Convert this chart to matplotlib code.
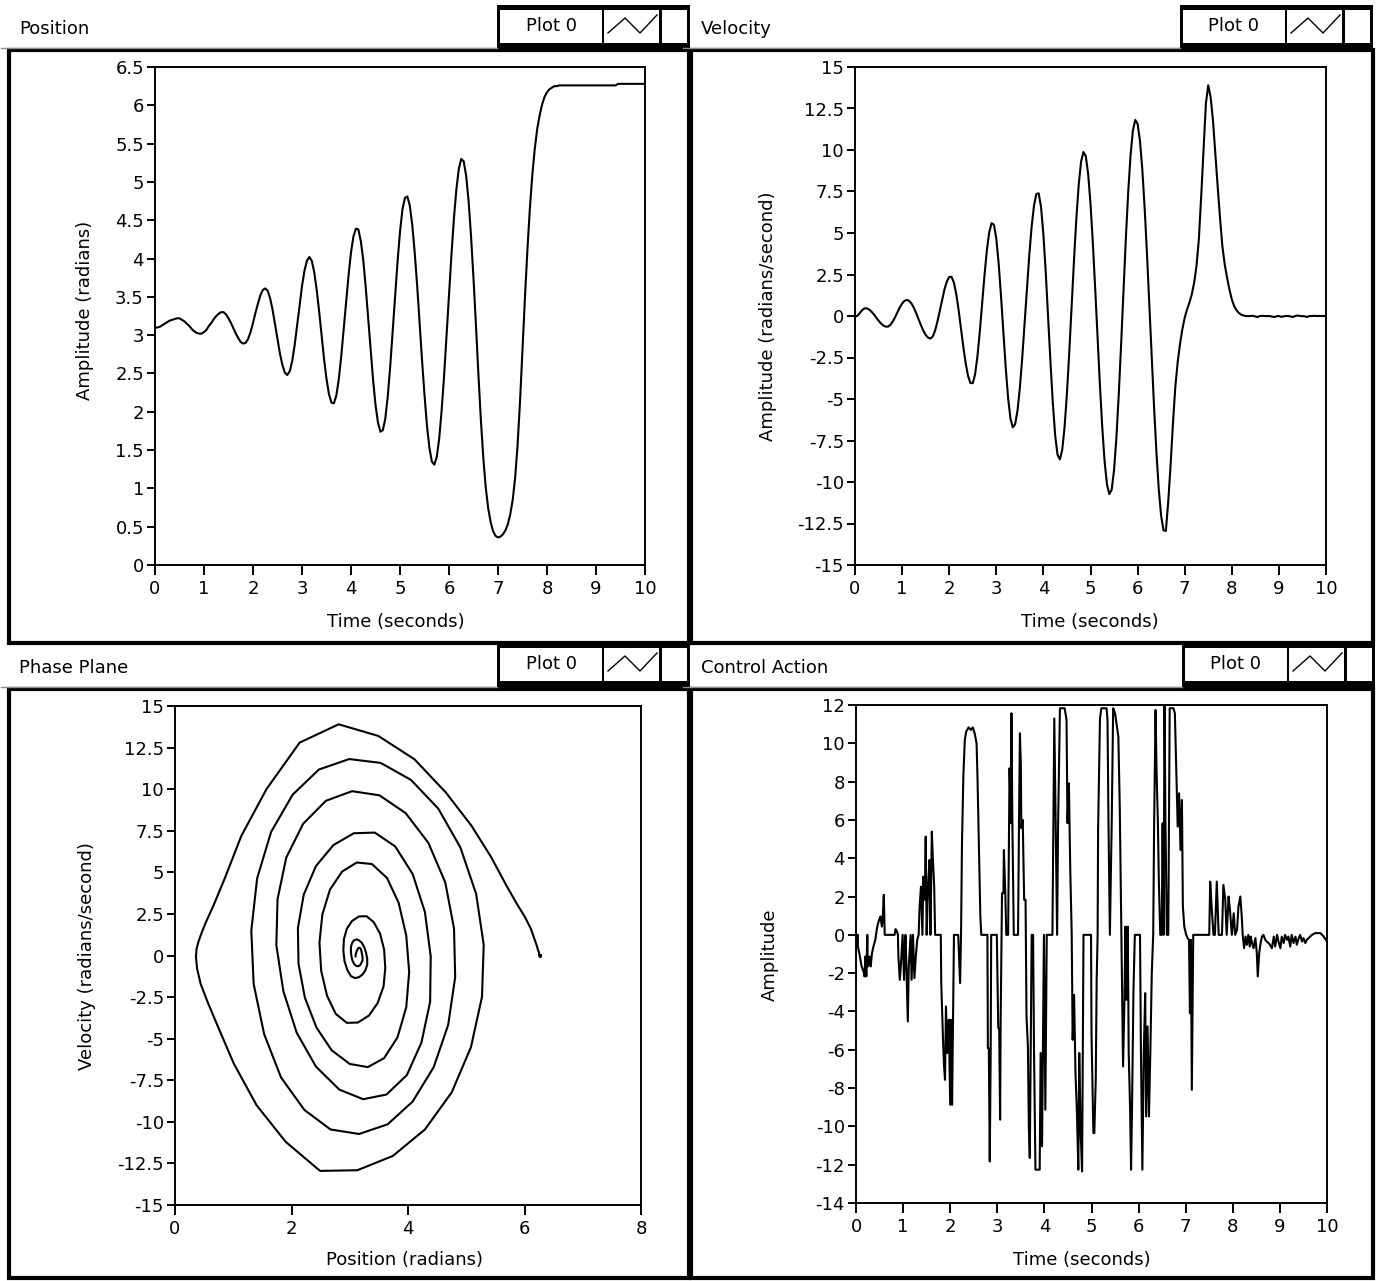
import matplotlib
matplotlib.use('Agg')
import matplotlib.pyplot as plt
from matplotlib.patches import Rectangle
import numpy as np

plt.rcParams['font.family'] = ['DejaVu Sans']
plt.rcParams['axes.unicode_minus'] = False

# ---------------- data ----------------
sample_interval = 0.05  # seconds between samples of position / velocity

position = [
    3.10, 3.10, 3.11, 3.13, 3.15, 3.17, 3.19, 3.20, 3.21, 3.22,
    3.22, 3.20, 3.18, 3.15, 3.12, 3.08, 3.05, 3.03, 3.02, 3.02,
    3.04, 3.07, 3.12, 3.16, 3.21, 3.25, 3.28, 3.30, 3.30, 3.27,
    3.22, 3.16, 3.09, 3.02, 2.96, 2.91, 2.89, 2.90, 2.95, 3.04,
    3.16, 3.29, 3.41, 3.52, 3.59, 3.61, 3.58, 3.48, 3.33, 3.14,
    2.95, 2.76, 2.61, 2.51, 2.48, 2.53, 2.66, 2.87, 3.12, 3.38,
    3.64, 3.84, 3.97, 4.02, 3.97, 3.82, 3.59, 3.31, 3.00, 2.69,
    2.43, 2.23, 2.12, 2.11, 2.21, 2.42, 2.72, 3.07, 3.43, 3.78,
    4.08, 4.29, 4.39, 4.38, 4.23, 3.98, 3.63, 3.23, 2.82, 2.42,
    2.09, 1.86, 1.74, 1.76, 1.91, 2.20, 2.59, 3.04, 3.51, 3.96,
    4.35, 4.64, 4.79, 4.81, 4.69, 4.44, 4.08, 3.65, 3.16, 2.67,
    2.22, 1.82, 1.53, 1.35, 1.31, 1.41, 1.65, 2.02, 2.47, 2.99,
    3.53, 4.05, 4.52, 4.90, 5.17, 5.30, 5.27, 5.08, 4.75, 4.29,
    3.74, 3.13, 2.49, 1.90, 1.40, 1.01, 0.74, 0.56, 0.44, 0.38,
    0.36, 0.37, 0.40, 0.45, 0.53, 0.66, 0.85, 1.14, 1.57, 2.14,
    2.81, 3.49, 4.11, 4.65, 5.09, 5.43, 5.69, 5.87, 6.01, 6.11,
    6.17, 6.21, 6.23, 6.25, 6.25, 6.26, 6.26, 6.26, 6.26, 6.26,
    6.26, 6.26, 6.26, 6.26, 6.26, 6.26, 6.26, 6.26, 6.26, 6.26,
    6.26, 6.26, 6.26, 6.26, 6.26, 6.26, 6.26, 6.26, 6.26, 6.28,
    6.28, 6.28, 6.28, 6.28, 6.28, 6.28, 6.28, 6.28, 6.28, 6.28,
    6.28,
]

velocity = [
    -0.05, 0.01, 0.17, 0.35, 0.46, 0.46, 0.39, 0.26, 0.10, -0.09,
    -0.28, -0.44, -0.57, -0.64, -0.64, -0.54, -0.34, -0.08, 0.22, 0.51,
    0.75, 0.91, 0.97, 0.91, 0.75, 0.49, 0.17, -0.20, -0.55, -0.88,
    -1.14, -1.30, -1.36, -1.24, -0.88, -0.34, 0.31, 0.99, 1.61, 2.08,
    2.35, 2.36, 2.01, 1.32, 0.36, -0.74, -1.86, -2.85, -3.61, -4.03,
    -4.05, -3.51, -2.42, -0.93, 0.77, 2.47, 3.96, 5.05, 5.59, 5.50,
    4.66, 3.16, 1.20, -0.99, -3.11, -4.92, -6.17, -6.71, -6.52, -5.70,
    -4.34, -2.54, -0.49, 1.65, 3.66, 5.38, 6.64, 7.35, 7.39, 6.56,
    4.90, 2.62, -0.05, -2.78, -5.24, -7.19, -8.36, -8.64, -8.06, -6.68,
    -4.65, -2.14, 0.62, 3.38, 5.89, 7.92, 9.30, 9.88, 9.63, 8.56,
    6.77, 4.39, 1.63, -1.30, -4.17, -6.72, -8.78, -10.15, -10.73, -10.46,
    -9.28, -7.33, -4.72, -1.71, 1.50, 4.64, 7.43, 9.67, 11.18, 11.81,
    11.58, 10.56, 8.83, 6.49, 3.70, 0.64, -2.49, -5.52, -8.23, -10.46,
    -12.05, -12.91, -12.95, -11.20, -9.00, -6.50, -4.30, -2.80, -1.70, -0.80,
    -0.10, 0.40, 0.80, 1.30, 2.00, 3.00, 4.60, 7.20, 10.00, 12.80,
    13.90, 13.20, 11.80, 9.80, 7.80, 5.90, 4.20, 3.10, 2.30, 1.60,
    1.00, 0.60, 0.35, 0.18, 0.08, 0.03, 0.00, -0.01, 0.00, 0.01,
    -0.03, -0.06, 0.00, 0.01, 0.00, -0.01, 0.00, -0.03, -0.06, -0.02,
    0.00, -0.05, -0.02, 0.00, 0.00, -0.03, -0.06, 0.00, 0.03, 0.00,
    -0.01, -0.02, -0.06, 0.00, 0.00, 0.01, 0.00, 0.00, 0.00, 0.00,
    0.00,
]

# control action: traced vertices (time s, amplitude)
ctrl_time = [
    0.00, 0.04, 0.04, 0.07, 0.10, 0.12, 0.16, 0.18, 0.20, 0.22, 0.24, 0.25, 0.29, 0.31,
    0.34, 0.37, 0.41, 0.44, 0.46, 0.49, 0.52, 0.55, 0.57, 0.59, 0.61, 0.82, 0.84, 0.87,
    0.89, 0.90, 0.93, 0.96, 0.99, 1.02, 1.05, 1.07, 1.10, 1.12, 1.16, 1.18, 1.21, 1.24,
    1.27, 1.30, 1.33, 1.35, 1.38, 1.41, 1.43, 1.46, 1.48, 1.50, 1.53, 1.56, 1.58, 1.61,
    1.63, 1.66, 1.68, 1.80, 1.81, 1.85, 1.87, 1.89, 1.91, 1.94, 1.97, 2.00, 2.02, 2.04,
    2.06, 2.08, 2.17, 2.19, 2.21, 2.23, 2.25, 2.28, 2.31, 2.34, 2.39, 2.44,
    2.48, 2.52, 2.56, 2.58, 2.61, 2.64, 2.66, 2.79, 2.80, 2.82, 2.84, 2.86, 2.87, 2.99,
    3.02, 3.04, 3.06, 3.07, 3.09, 3.10, 3.13, 3.14, 3.17, 3.19, 3.23, 3.24, 3.26, 3.29,
    3.30, 3.32, 3.35, 3.44, 3.46, 3.48, 3.50, 3.51, 3.54, 3.57, 3.60, 3.62, 3.65, 3.67,
    3.69, 3.71, 3.73, 3.76, 3.78, 3.81, 3.90, 3.92, 3.95, 3.97, 3.99, 4.02, 4.05, 4.17,
    4.19, 4.21, 4.24, 4.27, 4.29, 4.33, 4.43, 4.47, 4.49, 4.52, 4.55, 4.58, 4.60, 4.63,
    4.66, 4.69, 4.72, 4.74, 4.77, 4.80, 4.83, 4.99, 5.00, 5.04,
    5.06, 5.09, 5.11, 5.13, 5.14, 5.18, 5.21, 5.32, 5.34, 5.36, 5.39, 5.43, 5.46, 5.50,
    5.53, 5.57, 5.60, 5.64, 5.67, 5.70, 5.72, 5.74, 5.77, 5.79, 5.82, 5.84, 5.86, 5.89,
    5.92, 6.03, 6.05, 6.08, 6.11, 6.14, 6.16, 6.19, 6.22, 6.25, 6.28, 6.31, 6.33, 6.36,
    6.38, 6.41, 6.43, 6.46, 6.49, 6.51, 6.53, 6.55, 6.57, 6.60, 6.63, 6.66, 6.74, 6.77,
    6.80, 6.83, 6.86, 6.89, 6.92, 6.94, 6.97, 7.01, 7.04, 7.07, 7.09, 7.11, 7.13, 7.16,
    7.50, 7.52,
    7.55, 7.59, 7.62, 7.66, 7.70, 7.77, 7.80, 7.84, 7.87, 7.91, 7.94, 7.98, 8.02, 8.05,
    8.09, 8.12, 8.16, 8.19, 8.21, 8.24, 8.27, 8.30, 8.33, 8.36, 8.38, 8.41, 8.44, 8.48,
    8.51, 8.53, 8.56, 8.59, 8.62, 8.65, 8.69, 8.72, 8.76, 8.79, 8.83, 8.87, 8.90, 8.94,
    8.97, 9.01, 9.04, 9.08, 9.11, 9.15, 9.18, 9.22, 9.25, 9.29, 9.33, 9.36, 9.40, 9.43,
    9.47, 9.50, 9.54, 9.57, 9.61, 9.68, 9.75, 9.86, 9.93, 10.00,
]
ctrl_value = [
    0, 0, -0.61, -0.96, -1.39, -1.65, -1.91, -2.17, -1.13, -2.17, 0, -1.65, -1.13, -1.65,
    -0.96, -0.61, -0.26, 0.26, 0.52, 0.78, 0.96, 0.43, 1.04, 2.09, 0, 0, 0.30, 0.17,
    0, -1.13, -2.35, -1.30, 0, -2.35, 0, -1.65, -4.52, -1.65, 0, -2.35, 0, -2.26,
    -1.13, -0.26, 0, 1.48, 2.52, 0, 3.04, 1.83, 5.13, 0, 2.52, 3.91, 0, 5.39,
    4.09, 2.52, 0, 0, -2.52, -5.65, -6.87, -7.57, -3.74, -6.17, -4.43, -8.87, -4.43, -8.87,
    -4.43, 0, 0, -1.30, -2.52, 0, 4.78, 8.35, 10.17, 10.61, 10.83, 10.70,
    10.83, 10.52, 10.0, 8.17, 4.43, 0.96, 0, 0, -5.91, -5.91, -11.83, -5.91, 0, 0,
    -4.87, -4.87, -9.65, -4.78, 0, 2.17, 2.17, 4.43, 2.17, 0, 0, 2.87, 8.70, 5.83,
    11.57, 5.83, 0, 0, 5.65, 10.52, 8.87, 5.57, 6.00, 1.83, 1.83, -4.26, -5.83, -10.09,
    -11.65, -5.83, 0, 0, -6.17, -12.26, -12.26, -6.17, -11.04, -5.48, 0, -9.13, 0, 0,
    5.65, 11.30, 5.65, 0, 5.65, 11.83, 11.83, 11.22, 5.83, 7.91, 3.30, 0, -5.48, -3.13,
    -7.22, -9.22, -12.26, -6.17, -10.35, -12.35, 0, 0, -5.13, -10.35,
    -10.35, -7.57, -2.35, 0, 5.48, 11.30, 11.83, 11.83, 11.22, 6.00, 0, 6.00, 11.83, 11.57,
    11.04, 10.35, 6.70, -1.13, -6.87, -3.39, 0.43, -3.39, 0.43, -6.17, -9.13, -12.26, -9.13, -3.04,
    0, 0, -6.17, -12.26, -6.17, -3.04, -9.48, -4.78, -9.48, -6.00, -2.00, 0, 5.83, 11.74,
    8.70, 5.83, 2.78, 0, 0, 5.83, 0, 12.0, 5.91, 0, 0, 11.83, 11.83, 11.57,
    8.61, 5.65, 7.39, 4.43, 7.04, 1.48, 0.43, 0, -0.17, -0.26, -4.09, -0.26, -8.09, 0,
    0, 2.78,
    1.48, 0, 0, 2.78, 0, 0, 2.61, 1.83, 0, 2.00, 1.30, 0, 1.13, 0,
    0.26, 1.48, 2.00, 0.96, 0, -0.70, -0.09, -0.52, 0, -0.61, -0.09, -0.43, -0.70, -0.17,
    -0.96, -2.17, -0.96, -0.43, -0.09, 0, -0.26, -0.35, -0.43, -0.52, -0.70, -0.09, -0.61, 0,
    -0.35, -0.70, -0.09, -0.43, 0, -0.26, -0.09, -0.61, 0, -0.43, -0.09, -0.52, -0.17, 0,
    -0.35, -0.17, -0.43, -0.26, -0.17, 0, 0.09, 0.09, -0.09, -0.35,
]

# ticks
time_ticks = [0, 1, 2, 3, 4, 5, 6, 7, 8, 9, 10]
position_ticks = [0, 0.5, 1, 1.5, 2, 2.5, 3, 3.5, 4, 4.5, 5, 5.5, 6, 6.5]
velocity_ticks = [-15, -12.5, -10, -7.5, -5, -2.5, 0, 2.5, 5, 7.5, 10, 12.5, 15]
phase_x_ticks = [0, 2, 4, 6, 8]
control_ticks = [-14, -12, -10, -8, -6, -4, -2, 0, 2, 4, 6, 8, 10, 12]

# ---------------- figure ----------------
W, H = 1377, 1281
fig = plt.figure(figsize=(W / 100, H / 100), dpi=100)
fig.patch.set_facecolor('white')

ov = fig.add_axes([0, 0, 1, 1], zorder=0)
ov.set_xlim(0, W)
ov.set_ylim(H, 0)
ov.axis('off')

FS = 13
LW_PANEL = 3.0


def add_axes_px(l, t, r, b):
    ax = fig.add_axes([l / W, 1 - b / H, (r - l) / W, (b - t) / H], zorder=2)
    ax.set_facecolor('white')
    return ax


def fmt(v):
    return f"{v:g}"


def style(ax, xlim, ylim, xticks, yticks):
    ax.set_xlim(*xlim)
    ax.set_ylim(*ylim)
    ax.set_xticks(xticks)
    ax.set_xticklabels([fmt(v) for v in xticks])
    ax.set_yticks(yticks)
    ax.set_yticklabels([fmt(v) for v in yticks])
    for s in ax.spines.values():
        s.set_linewidth(1.4)
        s.set_color('black')
    ax.tick_params(direction='out', length=6, width=1.4, labelsize=FS,
                   colors='black', pad=2)
    ax.tick_params(axis='x', length=7, pad=4)


def panel(x0, y0, x1, y1, title, legend_x, legend_y):
    # title row separator (thin gray)
    ov.plot([x0 - 8, legend_x], [y0 - 2, y0 - 2], color='#8c8c8c', lw=1.0)
    ov.text(x0 + 10, (legend_y + y0) / 2 + 2, title, fontsize=FS,
            ha='left', va='center')
    # thick frame
    ov.add_patch(Rectangle((x0, y0), x1 - x0, y1 - y0, fill=False,
                           edgecolor='black', lw=LW_PANEL))
    # legend
    ov.add_patch(Rectangle((legend_x, legend_y), 193, 45,
                           facecolor='black', edgecolor='none'))
    for dx, w in [(3, 102), (107, 55), (165, 25)]:
        ov.add_patch(Rectangle((legend_x + dx, legend_y + 5), w, 33,
                               facecolor='white', edgecolor='none'))
    ov.text(legend_x + 54, legend_y + 21, 'Plot 0', fontsize=FS,
            ha='center', va='center')
    ov.plot([legend_x + 111, legend_x + 128, legend_x + 143, legend_x + 160],
            [legend_y + 28, legend_y + 13, legend_y + 28, legend_y + 10],
            color='black', lw=1.0)


panel(9, 50, 689, 643, 'Position', 497, 5)
panel(691, 50, 1373, 643, 'Velocity', 1180, 5)
panel(9, 689, 689, 1278, 'Phase Plane', 497, 643)
panel(691, 689, 1373, 1278, 'Control Action', 1182, 643)

times = np.arange(len(position)) * sample_interval
LINE = dict(color='black', lw=1.5)

# Position
ax1 = add_axes_px(155, 67, 645, 565)
ax1.plot(times, position, **LINE)
style(ax1, (0, 10), (0, 6.5), time_ticks, position_ticks)
ov.text(85, 310, 'Amplitude (radians)', fontsize=FS, rotation=90,
        ha='center', va='center')
ov.text(396, 622, 'Time (seconds)', fontsize=FS, ha='center', va='center')

# Velocity
ax2 = add_axes_px(855, 67, 1326, 565)
ax2.plot(times, velocity, **LINE)
style(ax2, (0, 10), (-15, 15), time_ticks, velocity_ticks)
ov.text(768, 316, 'Amplitude (radians/second)', fontsize=FS, rotation=90,
        ha='center', va='center')
ov.text(1090, 622, 'Time (seconds)', fontsize=FS, ha='center', va='center')

# Phase plane
ax3 = add_axes_px(175, 706, 641, 1205)
ax3.plot(position, velocity, **LINE)
style(ax3, (0, 8), (-15, 15), phase_x_ticks, velocity_ticks)
ov.text(87, 956, 'Velocity (radians/second)', fontsize=FS, rotation=90,
        ha='center', va='center')
ov.text(404, 1260, 'Position (radians)', fontsize=FS, ha='center', va='center')

# Control action
ax4 = add_axes_px(856, 705, 1327, 1203)
ax4.plot(ctrl_time, ctrl_value, **LINE)
style(ax4, (0, 10), (-14, 12), time_ticks, control_ticks)
ov.text(770, 955, 'Amplitude', fontsize=FS, rotation=90,
        ha='center', va='center')
ov.text(1082, 1260, 'Time (seconds)', fontsize=FS, ha='center', va='center')

fig.savefig('out.png', dpi=100, facecolor='white')
